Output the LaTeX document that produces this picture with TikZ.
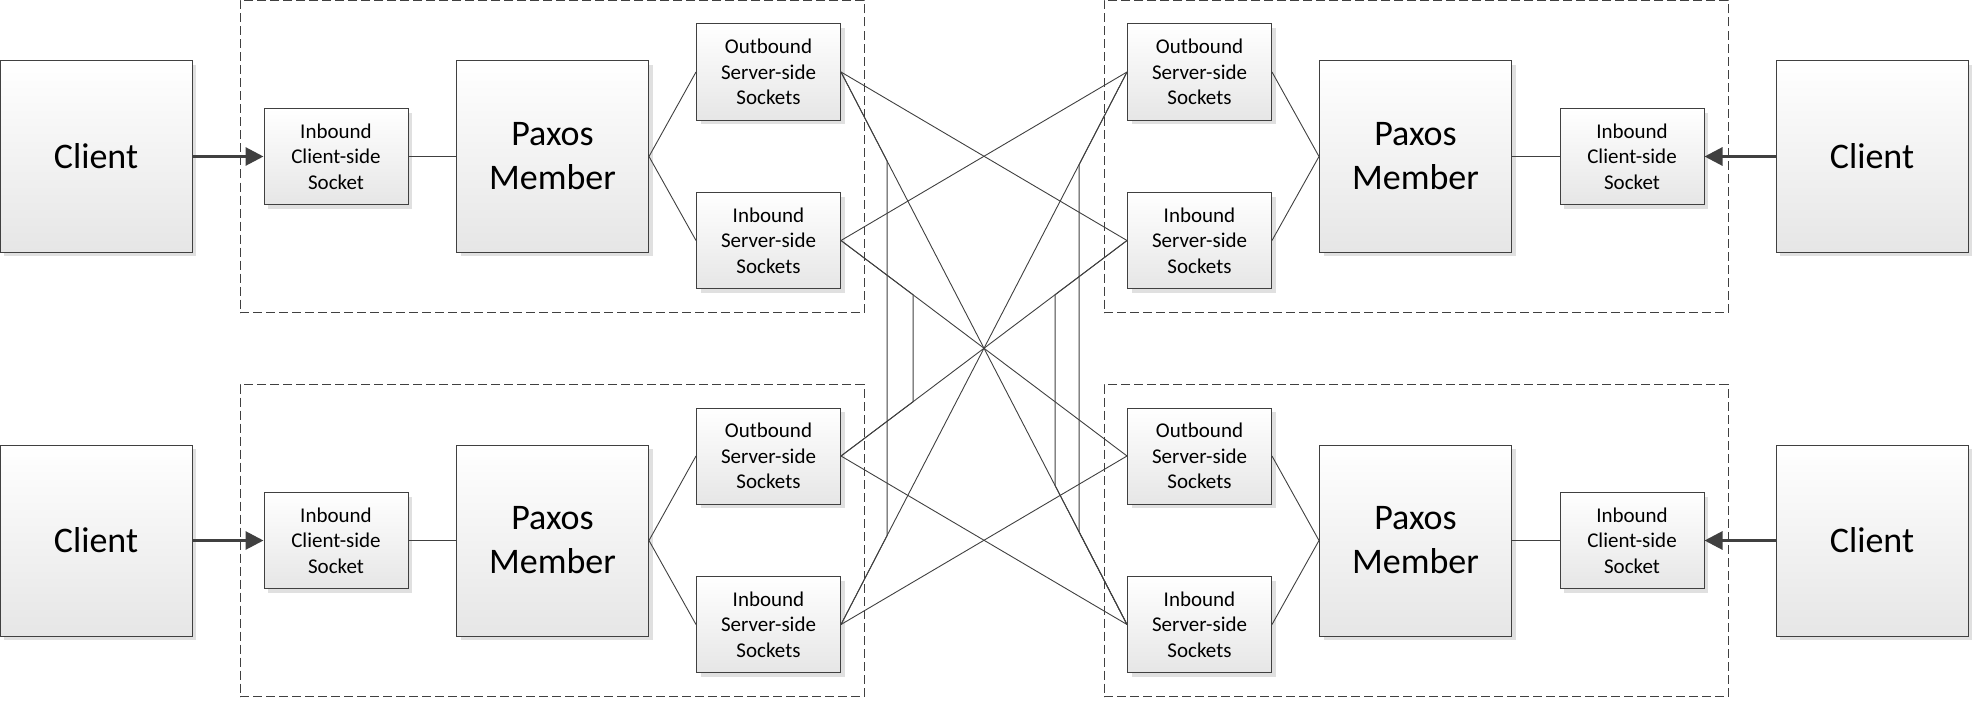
\documentclass[tikz,border=0pt]{standalone}
\usepackage{fontspec}
\setmainfont{Carlito}
\usetikzlibrary{arrows.meta,shadows}
\definecolor{linegray}{RGB}{64,64,64}
\definecolor{shadegray}{RGB}{230,230,230}
\tikzset{
  boxbase/.style={rectangle, draw=linegray, line width=1pt, inner sep=0pt, align=center, top color=white, bottom color=shadegray, drop shadow={shadow xshift=4pt, shadow yshift=-4pt, fill=black!12, opacity=1}},
  bigbox/.style={boxbase, minimum width=192pt, minimum height=191pt, font=\fontsize{36}{44}\selectfont},
  sockbox/.style={boxbase, minimum width=144pt, minimum height=96pt, font=\fontsize{21}{25.5}\selectfont},
  grpbox/.style={rectangle, draw=linegray, line width=1pt, dash pattern=on 9pt off 4pt, minimum width=624pt, minimum height=312pt, inner sep=0pt},
  wire/.style={draw=linegray, line width=0.9pt},
  feed/.style={draw=linegray, line width=3pt, -{Triangle[length=18pt,width=18pt]}}
}
\begin{document}
\begin{tikzpicture}[x=1pt,y=-1pt]
\useasboundingbox (0,0) rectangle (1973,701);
\node[grpbox] (grp0) at (552,156.5){};
\node[grpbox] (grp1) at (1416,156.5){};
\node[grpbox] (grp2) at (552,540.5){};
\node[grpbox] (grp3) at (1416,540.5){};
\node[bigbox] (cl0) at (96,156.5){Client};
\node[sockbox] (ics0) at (336,156.5){Inbound\\Client-side\\Socket};
\node[bigbox] (pm0) at (552.5,156.5){Paxos\\Member};
\node[sockbox] (out0) at (768.5,72){Outbound\\Server-side\\Sockets};
\node[sockbox] (in0) at (768.5,240.5){Inbound\\Server-side\\Sockets};
\draw[feed](cl0) -- (ics0);
\draw[wire](ics0) -- (pm0);
\draw[wire](pm0.east) -- (out0.west);
\draw[wire](pm0.east) -- (in0.west);
\node[bigbox] (cl1) at (1872,156.5){Client};
\node[sockbox] (ics1) at (1632,156.5){Inbound\\Client-side\\Socket};
\node[bigbox] (pm1) at (1415.5,156.5){Paxos\\Member};
\node[sockbox] (out1) at (1199.5,72){Outbound\\Server-side\\Sockets};
\node[sockbox] (in1) at (1199.5,240.5){Inbound\\Server-side\\Sockets};
\draw[feed](cl1) -- (ics1);
\draw[wire](ics1) -- (pm1);
\draw[wire](pm1.west) -- (out1.east);
\draw[wire](pm1.west) -- (in1.east);
\node[bigbox] (cl2) at (96,540.5){Client};
\node[sockbox] (ics2) at (336,540.5){Inbound\\Client-side\\Socket};
\node[bigbox] (pm2) at (552.5,540.5){Paxos\\Member};
\node[sockbox] (out2) at (768.5,456){Outbound\\Server-side\\Sockets};
\node[sockbox] (in2) at (768.5,624.5){Inbound\\Server-side\\Sockets};
\draw[feed](cl2) -- (ics2);
\draw[wire](ics2) -- (pm2);
\draw[wire](pm2.east) -- (out2.west);
\draw[wire](pm2.east) -- (in2.west);
\node[bigbox] (cl3) at (1872,540.5){Client};
\node[sockbox] (ics3) at (1632,540.5){Inbound\\Client-side\\Socket};
\node[bigbox] (pm3) at (1415.5,540.5){Paxos\\Member};
\node[sockbox] (out3) at (1199.5,456){Outbound\\Server-side\\Sockets};
\node[sockbox] (in3) at (1199.5,624.5){Inbound\\Server-side\\Sockets};
\draw[feed](cl3) -- (ics3);
\draw[wire](ics3) -- (pm3);
\draw[wire](pm3.west) -- (out3.east);
\draw[wire](pm3.west) -- (in3.east);
\draw[wire](out0.east) -- (in1.west);
\draw[wire](in0.east) -- (out1.west);
\draw[wire](out2.east) -- (in3.west);
\draw[wire](in2.east) -- (out3.west);
\draw[wire](out0.east) -- (in3.west);
\draw[wire](in0.east) -- (out3.west);
\draw[wire](out1.west) -- (in2.east);
\draw[wire](in1.west) -- (out2.east);
\coordinate (va0) at (887,0);
\coordinate (va1) at (887,700);
\coordinate (vb0) at (913,0);
\coordinate (vb1) at (913,700);
\coordinate (vc0) at (1055,0);
\coordinate (vc1) at (1055,700);
\coordinate (vd0) at (1079,0);
\coordinate (vd1) at (1079,700);
\draw[wire](out0.east) -- (intersection of out0.east--in3.west and va0--va1) -- (intersection of in2.east--out1.west and va0--va1) -- (in2.east);
\draw[wire](in0.east) -- (intersection of in0.east--out3.west and vb0--vb1) -- (intersection of out2.east--in1.west and vb0--vb1) -- (out2.east);
\draw[wire](in1.west) -- (intersection of in1.west--out2.east and vc0--vc1) -- (intersection of out0.east--in3.west and vc0--vc1) -- (in3.west);
\draw[wire](out1.west) -- (intersection of out1.west--in2.east and vd0--vd1) -- (intersection of out0.east--in3.west and vd0--vd1) -- (in3.west);
\end{tikzpicture}
\end{document}
